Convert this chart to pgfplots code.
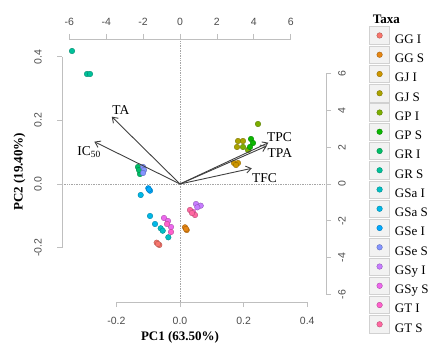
\documentclass[border=0pt]{standalone}
\usepackage{fontspec}
\setmainfont{Liberation Serif}
\setsansfont{Liberation Sans}
\usepackage{pgfplots}
\pgfplotsset{compat=1.18}
\usetikzlibrary{arrows.meta}
\definecolor{cGGI}{HTML}{F8766D}
\definecolor{cGGS}{HTML}{E68613}
\definecolor{cGJI}{HTML}{CD9600}
\definecolor{cGJS}{HTML}{ABA300}
\definecolor{cGPI}{HTML}{7CAE00}
\definecolor{cGPS}{HTML}{0CB702}
\definecolor{cGRI}{HTML}{00BE67}
\definecolor{cGRS}{HTML}{00C19A}
\definecolor{cGSaI}{HTML}{00BFC4}
\definecolor{cGSaS}{HTML}{00B8E7}
\definecolor{cGSeI}{HTML}{00A9FF}
\definecolor{cGSeS}{HTML}{8494FF}
\definecolor{cGSyI}{HTML}{C77CFF}
\definecolor{cGSyS}{HTML}{ED68ED}
\definecolor{cGTI}{HTML}{FF61CC}
\definecolor{cGTS}{HTML}{FF68A1}
\pgfplotsset{
  pt/.style={only marks, mark=*, mark size=2.8pt, draw=#1!70!black, fill=#1, line width=0.35pt},
  ld/.style={-{Straight Barb[length=5pt,width=7pt]}, draw=black!75, line width=0.9pt},
}
\begin{document}
\begin{tikzpicture}
\useasboundingbox (0,0) rectangle (430pt,342pt);
\begin{axis}[
  at={(62pt,40pt)}, anchor=south west,
  scale only axis, width=264pt, height=263pt,
  xmin=-0.3711, xmax=0.4591, ymin=-0.3711, ymax=0.4560,
  axis line style={draw=none},
  clip=false,
  tick pos=left,
  xticklabel pos=left, yticklabel pos=left,
  xtick={-0.2,0,0.2,0.4}, xticklabels={-0.2,0.0,0.2,0.4},
  ytick={-0.2,0,0.2,0.4}, yticklabels={-0.2,0.0,0.2,0.4},
  tick align=outside, major tick length=5pt,
  tick style={draw=black!25, line width=0.8pt},
  ticklabel style={font=\sffamily\fontsize{10.5}{10.5}\selectfont, text=black!70, inner sep=0pt},
  xticklabel style={anchor=north, yshift=-10pt},
  yticklabel style={xshift=-15pt, rotate=90, anchor=south},
  xlabel={PC1 (63.50\%)},
  ylabel={PC2 (19.40\%)},
  label style={font=\bfseries\fontsize{13}{13}\selectfont},
  xlabel style={at={(axis description cs:0.447,-0.1456)}, anchor=base},
  ylabel style={at={(axis description cs:-0.1496,0.4954)}, rotate=0, anchor=base},
  legend style={at={(axis description cs:1.164,1.0476)}, anchor=north west, draw=none, fill=none,
    inner sep=0pt, outer sep=0pt, row sep=0.9pt, column sep=5pt, font=\fontsize{13}{13}\selectfont,
    nodes={inner sep=0pt}},
  legend cell align=left,
  legend image code/.code={
    \draw[fill=black!5, draw=black!18, line width=0.6pt] (0pt,-4.4pt) rectangle (20pt,13pt);
    \draw[#1] plot coordinates {(10pt,4.3pt)};
  },
]
\draw[densely dotted, black!35, line width=0.7pt] (axis cs:0,-0.3711) -- (axis cs:0,0.4560);
\draw[densely dotted, black!35, line width=0.7pt] (axis cs:-0.3711,0) -- (axis cs:0.4591,0);
\draw[black!25, line width=0.8pt] (axis cs:-0.2,-0.3711) -- (axis cs:0.4,-0.3711);
\draw[black!25, line width=0.8pt] (axis cs:-0.3711,-0.2) -- (axis cs:-0.3711,0.4);

\addplot[pt=cGGI] coordinates {(-0.0733,-0.1846) (-0.0651,-0.1918) (-0.0692,-0.1887)};
\addlegendentry{GG I}
\addplot[pt=cGGS] coordinates {(0.0157,-0.1362) (0.0211,-0.1447) (0.0189,-0.1415)};
\addlegendentry{GG S}
\addplot[pt=cGJI] coordinates {(0.1698,0.0660) (0.1824,0.0660) (0.1761,0.0597)};
\addlegendentry{GJ I}
\addplot[pt=cGJS] coordinates {(0.1824,0.1352) (0.1792,0.1164) (0.1981,0.1352)};
\addlegendentry{GJ S}
\addplot[pt=cGPI] coordinates {(0.2453,0.1887) (0.2138,0.1069) (0.1981,0.1164)};
\addlegendentry{GP I}
\addplot[pt=cGPS] coordinates {(0.2233,0.1415) (0.2296,0.1289) (0.2201,0.1164)};
\addlegendentry{GP S}
\addplot[pt=cGRI] coordinates {(-0.1321,0.0535) (-0.1258,0.0314) (-0.1289,0.0440)};
\addlegendentry{GR I}
\addplot[pt=cGRS] coordinates {(-0.3396,0.4182) (-0.2925,0.3459) (-0.2830,0.3459)};
\addlegendentry{GR S}
\addplot[pt=cGSaI] coordinates {(-0.0607,-0.1393) (-0.0544,-0.1469) (-0.0368,-0.1676)};
\addlegendentry{GSa I}
\addplot[pt=cGSaS] coordinates {(-0.1236,-0.0346) (-0.0943,-0.1006) (-0.0786,-0.1258)};
\addlegendentry{GSa S}
\addplot[pt=cGSeI] coordinates {(-0.0997,-0.0135) (-0.0943,-0.0211) (-0.0975,-0.0173)};
\addlegendentry{GSe I}
\addplot[pt=cGSeS] coordinates {(-0.1164,0.0535) (-0.1132,0.0440) (-0.1164,0.0346)};
\addlegendentry{GSe S}
\addplot[pt=cGSyI] coordinates {(0.0503,-0.0629) (0.0651,-0.0682) (0.0544,-0.0733)};
\addlegendentry{GSy I}
\addplot[pt=cGSyS] coordinates {(-0.0503,-0.1069) (-0.0377,-0.1164) (-0.0283,-0.1352)};
\addlegendentry{GSy S}
\addplot[pt=cGTI] coordinates {(-0.0409,-0.1258) (-0.0283,-0.1509) (0.0409,-0.0881)};
\addlegendentry{GT I}
\addplot[pt=cGTS] coordinates {(0.0314,-0.0818) (0.0472,-0.0975) (0.0377,-0.0912)};
\addlegendentry{GT S}

\node[font=\fontsize{13.5}{13.5}\selectfont] at (axis cs:-0.186,0.233) {TA};
\node[font=\fontsize{13.5}{13.5}\selectfont] at (axis cs:-0.286,0.101) {IC\textsubscript{50}};
\node[font=\fontsize{13.5}{13.5}\selectfont] at (axis cs:0.313,0.149) {TPC};
\node[font=\fontsize{13.5}{13.5}\selectfont] at (axis cs:0.314,0.096) {TPA};
\node[font=\fontsize{13.5}{13.5}\selectfont] at (axis cs:0.266,0.020) {TFC};
\node[anchor=west, font=\bfseries\fontsize{13}{13}\selectfont] at (axis description cs:1.164,1.076) {Taxa};
\end{axis}

\begin{axis}[
  at={(62pt,40pt)}, anchor=south west,
  scale only axis, width=264pt, height=263pt,
  xmin=-6.3978, xmax=7.9149, ymin=-6.3978, ymax=7.8614,
  axis line style={draw=none},
  clip=false,
  tick pos=right,
  xticklabel pos=right, yticklabel pos=right,
  xtick={-6,-4,-2,0,2,4,6}, xticklabels={-6,-4,-2,0,2,4,6},
  ytick={-6,-4,-2,0,2,4,6}, yticklabels={-6,-4,-2,0,2,4,6},
  tick align=outside, major tick length=5pt,
  tick style={draw=black!25, line width=0.8pt},
  ticklabel style={font=\sffamily\fontsize{10.5}{10.5}\selectfont, text=black!70, inner sep=0pt},
  xticklabel style={anchor=south, yshift=8.5pt},
  yticklabel style={xshift=7pt, rotate=90, anchor=north},
]
\draw[black!25, line width=0.8pt] (axis cs:-6,7.8614) -- (axis cs:6,7.8614);
\draw[black!25, line width=0.8pt] (axis cs:7.9149,-6) -- (axis cs:7.9149,6);
\addplot[ld] coordinates {(0,0) (-3.70,3.65)};
\addplot[ld] coordinates {(0,0) (-4.645,2.293)};
\addplot[ld] coordinates {(0,0) (4.79,2.24)};
\addplot[ld] coordinates {(0,0) (4.70,2.06)};
\addplot[ld] coordinates {(0,0) (3.89,0.85)};
\end{axis}
\end{tikzpicture}
\end{document}
